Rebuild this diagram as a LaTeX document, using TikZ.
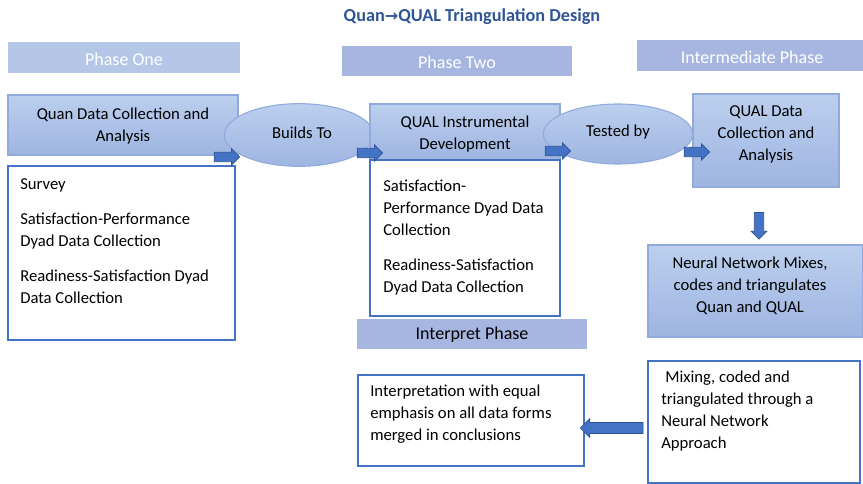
\documentclass[tikz,border=0pt]{standalone}
\usepackage{fontspec}
\setmainfont{Carlito}
\newfontfamily\symfont{DejaVu Sans}
\usetikzlibrary{shapes.geometric,shapes.arrows,fit}
\definecolor{titleblue}{HTML}{2F5597}
\definecolor{phaseA}{HTML}{B4C7E7}
\definecolor{phaseB}{HTML}{A6B6E0}
\definecolor{gradtop}{HTML}{BCCFEE}
\definecolor{gradbot}{HTML}{9EB5E1}
\definecolor{boxedge}{HTML}{8FAADC}
\definecolor{whiteedge}{HTML}{4472C4}
\definecolor{arrowfill}{HTML}{4472C4}
\definecolor{arrowedge}{HTML}{2F5597}
\tikzset{
  phasebox/.style={fill=#1, draw=none, inner sep=0pt},
  bluebox/.style={top color=gradtop, bottom color=gradbot, draw=boxedge, line width=0.8pt, inner sep=0pt},
  whitebox/.style={fill=white, draw=whiteedge, line width=1.1pt, inner sep=0pt},
  oval/.style={ellipse, top color=gradtop, bottom color=gradbot, draw=boxedge, line width=0.8pt, inner sep=0pt},
  phasetext/.style={text=white, font=\fontsize{13.5}{16}\selectfont},
  boxtext/.style={font=\fontsize{12.5}{16.5}\selectfont, align=center, inner sep=0pt, yshift=-1.2pt},
  lefttext/.style={font=\fontsize{12.5}{16.5}\selectfont, anchor=mid west, inner sep=0pt, yshift=-1.2pt},
  blockarrow/.style={single arrow, fill=arrowfill, draw=arrowedge, line width=0.5pt,
     inner sep=3.3pt, single arrow head extend=2.5pt, single arrow tip angle=90, minimum width=12pt}
}
\begin{document}
\begin{tikzpicture}[x=0.75pt,y=-0.75pt]
\useasboundingbox (0,0) rectangle (863,484);
% title
\node[text=titleblue, font=\bfseries\fontsize{13.7}{16}\selectfont] (title) at (472,17) {Quan{\symfont\fontsize{12}{14}\selectfont →}QUAL Triangulation Design};
% phase headers
\node[phasebox=phaseA, fit={(8,42)(240,73)}] (p1) {};
\node[phasetext] (p1t) at (124,59) {Phase One};
\node[phasebox=phaseB, fit={(342,46)(572,76)}] (p2) {};
\node[phasetext] (p2t) at (457,62) {Phase Two};
\node[phasebox=phaseB, fit={(637,40)(863,71)}] (p3) {};
\node[phasetext] (p3t) at (752,57) {Intermediate Phase};
\node[phasebox=phaseB, fit={(357,319)(587,349)}] (p4) {};
\node[phasetext, text=black] (p4t) at (472,335) {Interpret Phase};
% phase one
\node[bluebox, fit={(8,95)(238,155)}] (q1) {};
\node[boxtext] (q1t) at (123,124) {Quan Data Collection and\\Analysis};
\node[whitebox, fit={(8,166)(235,340)}] (s1) {};
\node[lefttext] (s1a) at (20,185) {Survey};
\node[lefttext] (s1b) at (20,220) {Satisfaction-Performance};
\node[lefttext] (s1c) at (20,242) {Dyad Data Collection};
\node[lefttext] (s1d) at (20,277) {Readiness-Satisfaction Dyad};
\node[lefttext] (s1e) at (20,299) {Data Collection};
% builds to
\node[oval, minimum width=112pt, minimum height=47pt] (e1) at (299,135) {};
\node[boxtext] (e1t) at (302,131) {Builds To};
% phase two
\node[bluebox, fit={(370,104)(560,160)}] (q2) {};
\node[boxtext] (q2t) at (465,132) {QUAL Instrumental\\Development};
\node[whitebox, fit={(370,160)(560,316)}] (s2) {};
\node[lefttext] (s2a) at (383,187) {Satisfaction-};
\node[lefttext] (s2b) at (383,209) {Performance Dyad Data};
\node[lefttext] (s2c) at (383,231) {Collection};
\node[lefttext] (s2d) at (383,266) {Readiness-Satisfaction};
\node[lefttext] (s2e) at (383,288) {Dyad Data Collection};
% tested by
\node[oval, minimum width=112pt, minimum height=45pt] (e2) at (618,134) {};
\node[boxtext] (e2t) at (618,130) {Tested by};
% intermediate
\node[bluebox, fit={(693,94)(839,187)}] (q3) {};
\node[boxtext] (q3t) at (766,133) {QUAL Data\\Collection and\\Analysis};
\node[bluebox, fit={(648,245)(863,337)}] (nn) {};
\node[boxtext] (nnt) at (750,284) {Neural Network Mixes,\\codes and triangulates\\Quan and QUAL};
% bottom
\node[whitebox, fit={(648,361)(860,483)}] (mix) {};
\node[lefttext] (mixa) at (665,378) {Mixing, coded and};
\node[lefttext] (mixb) at (661,400) {triangulated through a};
\node[lefttext] (mixc) at (661,422) {Neural Network};
\node[lefttext] (mixd) at (661,444) {Approach};
\node[whitebox, fit={(358,375)(584,466)}] (int) {};
\node[lefttext] (inta) at (370,392) {Interpretation with equal};
\node[lefttext] (intb) at (370,414) {emphasis on all data forms};
\node[lefttext] (intc) at (370,436) {merged in conclusions};
% block arrows
\node[blockarrow, minimum height=19pt] (a1) at (224.5,157) {};
\node[blockarrow, minimum height=19pt] (a2) at (367.5,153) {};
\node[blockarrow, minimum height=19pt] (a3) at (555.5,151) {};
\node[blockarrow, minimum height=19pt] (a4) at (694.5,152) {};
\node[blockarrow, minimum height=20pt, shape border rotate=270] (a5) at (759,223.5) {};
\node[blockarrow, minimum height=47pt, minimum width=14pt, shape border rotate=180] (a6) at (614.5,428) {};
\end{tikzpicture}
\end{document}
